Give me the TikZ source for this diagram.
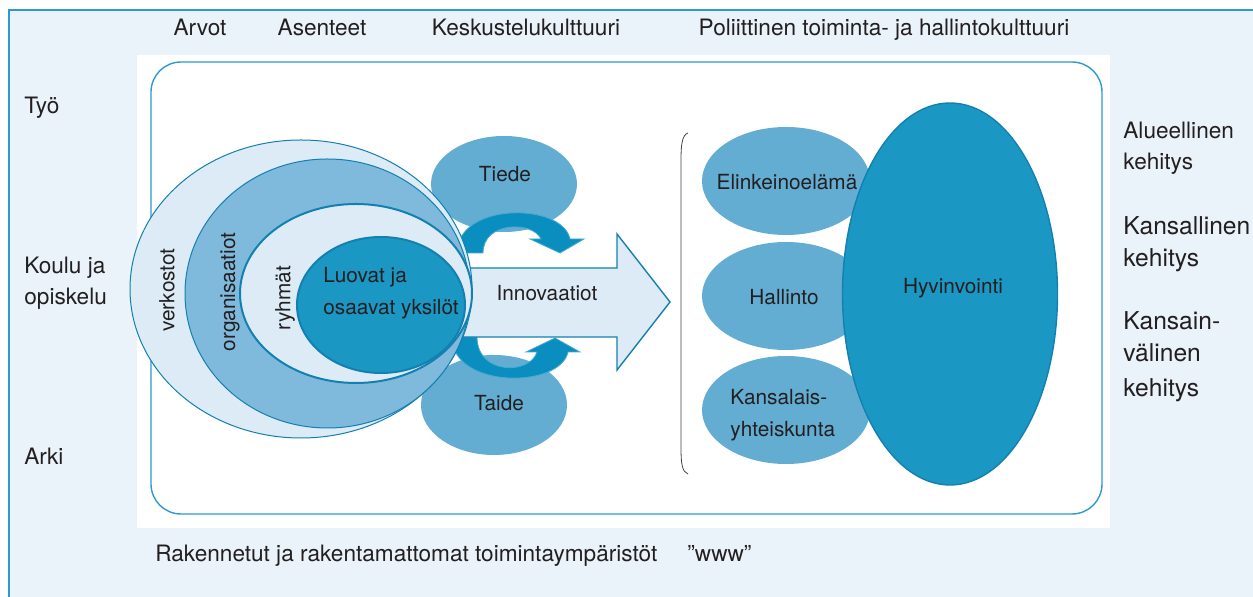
\documentclass[tikz,border=0pt]{standalone}
\usepackage{fontspec}
\setmainfont{TeX Gyre Heros}
\usepackage{tikz}
\usetikzlibrary{positioning, shapes.geometric, calc}
\definecolor{paleblue}{HTML}{EAF3F9}
\definecolor{lineblue}{HTML}{2B9ACF}
\definecolor{lightfill}{HTML}{DCEBF6}
\definecolor{midfill}{HTML}{7FBADC}
\definecolor{softblue}{HTML}{63ADD3}
\definecolor{deepblue}{HTML}{1B97C3}
\definecolor{edgeblue}{HTML}{1480B0}
\definecolor{arcblue}{HTML}{0A8EC0}
\definecolor{inkgray}{HTML}{231F20}
\tikzset{
    frameline/.style={lineblue, line width=0.7pt},
    blob/.style={ellipse, inner sep=0pt},
    txt/.style={text=inkgray, inner sep=0pt, font=\fontsize{11.3}{15.5}\selectfont},
    intxt/.style={txt, font=\fontsize{10.4}{16}\selectfont},
    bigtxt/.style={txt, font=\fontsize{12.3}{16}\selectfont},
    sidetxt/.style={txt, anchor=base west, align=left},
    turn/.style={intxt, rotate=90},
    swirl/.style={fill=arcblue, draw=arcblue!75!white, line width=0.4pt},
}

\begin{document}
\begin{tikzpicture}[x=0.5pt, y=-0.5pt]
    \useasboundingbox (0,0) rectangle (1253,597);

    % panels
    \fill[paleblue] (9,10) rectangle (1253,597);
    \draw[frameline] (9,597) -- (9,10) -- (1253,10);
    \fill[white] (137,55) rectangle (1110,528);
    \draw[frameline, rounded corners=15pt] (151,62) rectangle (1102,514);

    % texts round the panel (multi-line ones sit on their last baseline)
    \node[txt, anchor=base] (arvot) at (200,36) {Arvot};
    \node[txt, anchor=base] (asent) at (322,36) {Asenteet};
    \node[txt, anchor=base] (kesk) at (526,36) {Keskustelukulttuuri};
    \node[txt, anchor=base] (polit) at (884,36) {Poliittinen toiminta- ja hallintokulttuuri};
    \node[sidetxt] (tyo) at (24,114) {Työ};
    \node[sidetxt] (koulu) at (24,305) {Koulu ja\\opiskelu};
    \node[sidetxt] (arki) at (24,465) {Arki};
    \node[sidetxt] (alue) at (1123,170) {Alueellinen\\kehitys};
    \node[sidetxt, bigtxt] (kansal) at (1123,267) {Kansallinen\\kehitys};
    \node[sidetxt, bigtxt] (kansain) at (1123,397) {Kansain-\\välinen\\[1.5pt]kehitys};
    \node[txt, anchor=base west] (raken) at (155,562) {Rakennetut ja rakentamattomat toimintaympäristöt};
    \node[txt, anchor=base west] (www) at (687,562) {”www”};

    % science and art
    \node[blob, fill=softblue, minimum width=73pt, minimum height=48pt] (tiede) at (504,184) {};
    \node[blob, fill=softblue, minimum width=73pt, minimum height=50pt] (taide) at (494,405) {};
    \node[intxt, anchor=base] (tiedelbl) at (505,182) {Tiede};
    \node[intxt, anchor=base] (taidelbl) at (499,411) {Taide};

    % swirling arrows
    \draw[swirl] (457,253) .. controls (457,202) and (562,202) .. (570,239)
        -- (584,239) -- (560,253) -- (530,239) -- (541,239)
        .. controls (533,221) and (483,221) .. (483,253) -- cycle;
    \draw[swirl] (452,337) .. controls (452,389) and (560,389) .. (568,352)
        -- (580,352) -- (555,338) -- (526,352) -- (537,352)
        .. controls (530,375) and (477,375) .. (477,337) -- cycle;

    % innovation arrow
    \draw[edgeblue, fill=lightfill, line width=0.7pt] (440,268) -- (617,268) -- (617,234)
        -- (670,302) -- (617,370) -- (617,337) -- (440,337) -- cycle;
    \node[intxt, anchor=base] (innov) at (547,301) {Innovaatiot};

    % nested circles
    \node[blob, draw=edgeblue, fill=lightfill, line width=0.5pt, minimum width=171pt, minimum height=149pt] (verk) at (301,289) {};
    \node[blob, draw=edgeblue, fill=midfill, line width=0.5pt, minimum width=142.5pt, minimum height=134.5pt] (org) at (327.5,293.5) {};
    \node[blob, draw=edgeblue, fill=lightfill, line width=1pt, minimum width=116pt, minimum height=89.5pt] (ryhm) at (356,293.5) {};
    \node[blob, draw=edgeblue, fill=deepblue, line width=1pt, minimum width=84pt, minimum height=68pt] (yks) at (381,305) {};
    \node[turn] (verklbl) at (167,290) {verkostot};
    \node[turn] (orglbl) at (230,292) {organisaatiot};
    \node[turn] (ryhmlbl) at (285,298) {ryhmät};
    \node[sidetxt, intxt] (ykslbl) at (323,315) {Luovat ja\\osaavat yksilöt};

    % society
    \node[blob, fill=softblue, minimum width=84pt, minimum height=54pt] (elink) at (786,181) {};
    \node[blob, fill=softblue, minimum width=84pt, minimum height=54pt] (hall) at (786,296) {};
    \node[blob, fill=softblue, minimum width=84pt, minimum height=54pt] (kans) at (786,410) {};
    \node[blob, draw=edgeblue, fill=deepblue, line width=0.7pt, minimum width=107.5pt, minimum height=191pt] (hyv) at (950,294) {};
    \node[intxt, anchor=base] (elinklbl) at (787,190) {Elinkeinoelämä};
    \node[intxt, anchor=base] (hall lbl) at (784,305) {Hallinto};
    \node[sidetxt, intxt] (kanslbl) at (730,437) {Kansalais-\\yhteiskunta};
    \node[intxt, anchor=base] (hyvlbl) at (953,294) {Hyvinvointi};

    % bracket
    \draw[inkgray!85, line width=0.4pt] (688,133) .. controls (682,135) and (681,145) .. (681,160)
        -- (681,448) .. controls (681,463) and (682,472) .. (688,474);
\end{tikzpicture}
\end{document}
